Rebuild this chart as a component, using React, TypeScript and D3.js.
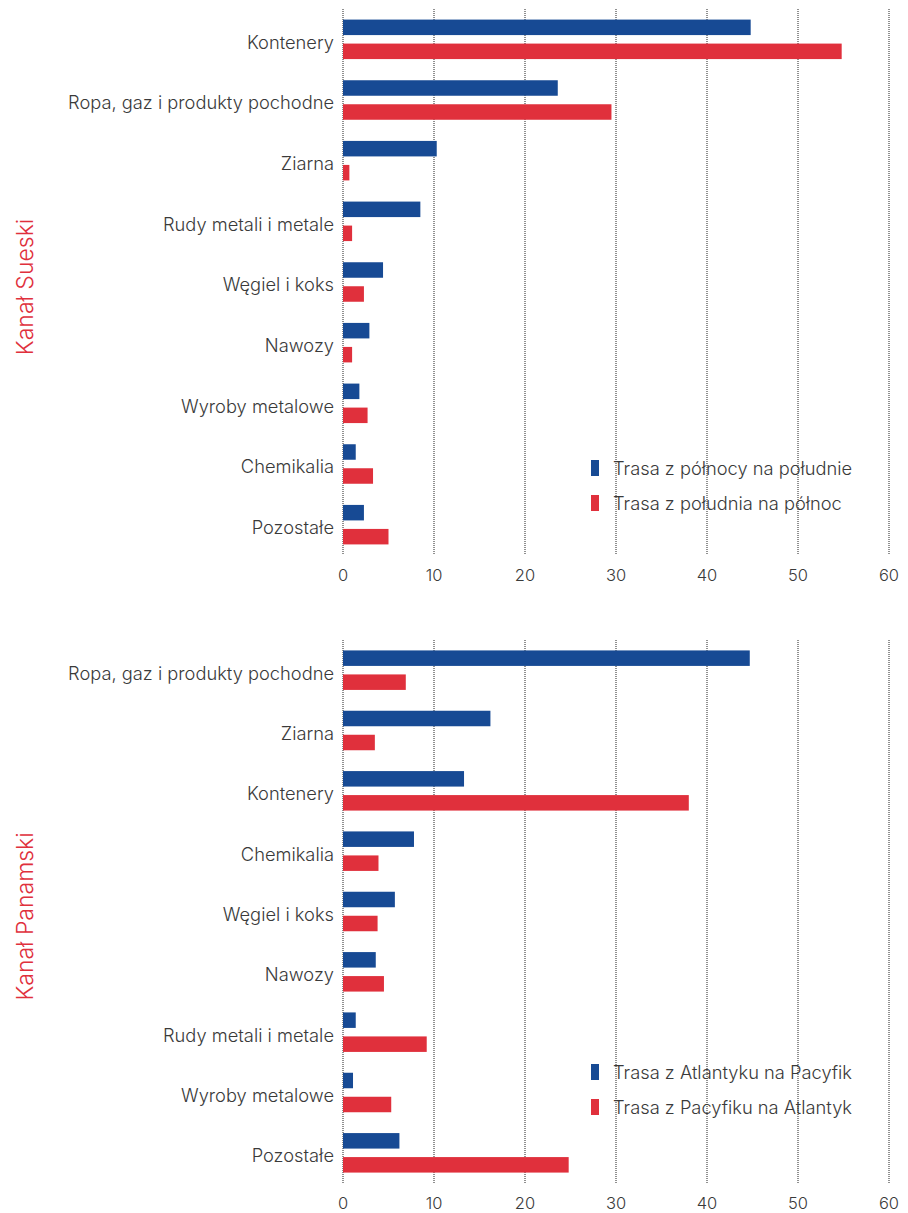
import React from "react";
import * as d3 from "d3";

// data (values in %)
const suezCats = ["Kontenery", "Ropa, gaz i produkty pochodne", "Ziarna", "Rudy metali i metale", "Węgiel i koks", "Nawozy", "Wyroby metalowe", "Chemikalia", "Pozostałe"];
const suezNS = [44.8, 23.6, 10.3, 8.5, 4.4, 2.9, 1.8, 1.4, 2.3];
const suezSN = [54.8, 29.5, 0.7, 1.0, 2.3, 1.0, 2.7, 3.3, 5.0];

const panamaCats = ["Ropa, gaz i produkty pochodne", "Ziarna", "Kontenery", "Chemikalia", "Węgiel i koks", "Nawozy", "Rudy metali i metale", "Wyroby metalowe", "Pozostałe"];
const panamaAP = [44.7, 16.2, 13.3, 7.8, 5.7, 3.6, 1.4, 1.1, 6.2];
const panamaPA = [6.9, 3.5, 38.0, 3.9, 3.8, 4.5, 9.2, 5.3, 24.8];

const ticks = [0, 10, 20, 30, 40, 50, 60];

const BLUE = "#174a94";
const RED = "#e0303c";
const TEXT = "#3a3a3a";
const FONT = "Inter, 'Noto Sans', sans-serif";

const W = 908, H = 1213;
const x = d3.scaleLinear().domain([0, 60]).range([343, 889]);

type PanelProps = {
  title: string;
  cats: string[];
  a: number[];
  b: number[];
  legend: [string, string];
  top: number;
  bottom: number;
  legendY: number;
};

const Panel = ({ title, cats, a, b, legend, top, bottom, legendY }: PanelProps) => {
  const y = d3.scaleBand().domain(cats).range([top, bottom]);
  const bw = y.bandwidth();
  const barH = 15.5;
  const gap = 8.5;
  return (
    <g>
      {ticks.map((t) => (
        <g key={t}>
          <line x1={x(t)} x2={x(t)} y1={top} y2={bottom} stroke="#222" strokeWidth={1} strokeDasharray="1,1" />
          <text x={x(t)} y={bottom + 26} textAnchor="middle" fontSize={16.5} fill={TEXT} fontFamily={FONT} fontWeight={300}>{t}</text>
        </g>
      ))}
      {cats.map((c, i) => {
        const cy = (y(c) as number) + bw / 2;
        return (
          <g key={c}>
            <rect x={x(0)} width={x(a[i]) - x(0)} y={cy - gap / 2 - barH} height={barH} fill={BLUE} />
            <rect x={x(0)} width={x(b[i]) - x(0)} y={cy + gap / 2} height={barH} fill={RED} />
            <text x={334} y={cy + 3} dy="0.35em" textAnchor="end" fontSize={18.3} fill={TEXT} fontFamily={FONT} fontWeight={300}>{c}</text>
          </g>
        );
      })}
      {legend.map((l, i) => (
        <g key={l} transform={`translate(591, ${legendY + i * 35})`}>
          <rect x={0} y={-8} width={8} height={16} fill={i === 0 ? BLUE : RED} />
          <text x={22} y={1} dy="0.35em" fontSize={18.3} fill={TEXT} fontFamily={FONT} fontWeight={300}>{l}</text>
        </g>
      ))}
      <text transform={`translate(33, ${(top + bottom) / 2 + 5}) rotate(-90)`} textAnchor="middle" fontSize={23} fill={RED} fontFamily={FONT} fontWeight={300}>{title}</text>
    </g>
  );
};

export default function App() {
  return (
    <svg width={W} height={H} style={{ position: "absolute", left: 0, top: 0, background: "#fff" }}>
      <Panel title="Kanał Sueski" cats={suezCats} a={suezNS} b={suezSN}
        legend={["Trasa z północy na południe", "Trasa z południa na północ"]}
        top={9} bottom={555} legendY={468} />
      <Panel title="Kanał Panamski" cats={panamaCats} a={panamaAP} b={panamaPA}
        legend={["Trasa z Atlantyku na Pacyfik", "Trasa z Pacyfiku na Atlantyk"]}
        top={640} bottom={1183} legendY={1072} />
    </svg>
  );
}
